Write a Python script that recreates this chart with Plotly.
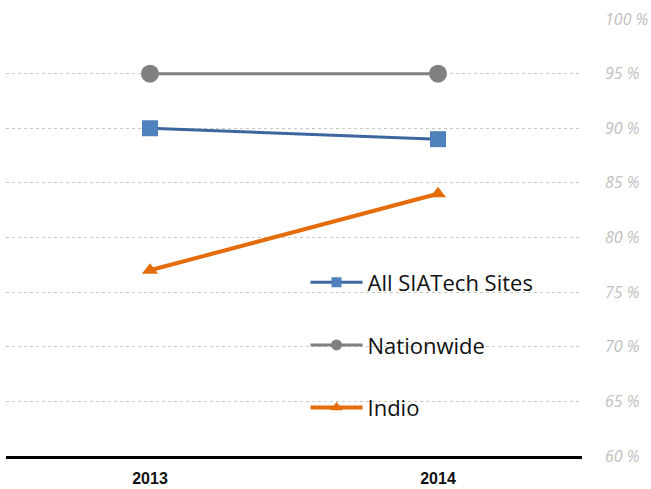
import plotly.graph_objects as go

years = ["2013", "2014"]
siatech = [90, 89]
nationwide = [95, 95]
indio = [77, 84]
tick_vals = [60, 65, 70, 75, 80, 85, 90, 95, 100]
tick_text = [f"{v} %" for v in tick_vals]

series = [
    ("All SIATech Sites", siatech, "#3b679e", 3, "square", 16, 10, "#4f81bd"),
    ("Nationwide", nationwide, "#808080", 3, "circle", 18, 11, "#808080"),
    ("Indio", indio, "#e46c0a", 4, "triangle-up", 14, 11, "#e46c0a"),
]

fig = go.Figure()
for i, (name, vals, lc, lw, sym, ms, lms, mc) in enumerate(series):
    fig.add_trace(go.Scatter(
        x=years, y=vals, name=name, mode="lines+markers",
        line=dict(color=lc, width=lw),
        marker=dict(symbol=sym, size=ms, color=mc),
        showlegend=False, legendgroup=f"g{i}"))
    # legend entry with smaller marker
    fig.add_trace(go.Scatter(
        x=[None], y=[None], name=name, mode="lines+markers",
        line=dict(color=lc, width=lw),
        marker=dict(symbol=sym, size=lms, color=mc),
        showlegend=True, legendgroup=f"g{i}"))

fig.update_layout(
    width=651, height=489,
    margin=dict(l=6, r=69, t=19, b=33, autoexpand=False),
    paper_bgcolor="white", plot_bgcolor="white",
    showlegend=True,
    legend=dict(x=0.52, y=0.445, xanchor="left", yanchor="top",
                font=dict(family="Open Sans, Liberation Sans, sans-serif", size=22, color="#111111"),
                bgcolor="rgba(0,0,0,0)", tracegroupgap=31, itemwidth=52),
    xaxis=dict(type="category", range=[-0.5, 1.5], showgrid=False,
               showline=True, linecolor="black", linewidth=3, automargin=False,
               ticks="", ticklabelstandoff=6,
               tickfont=dict(family="Liberation Sans Narrow, Arial Narrow, Liberation Sans, sans-serif",
                             size=16, color="#111111", weight="bold")),
    yaxis=dict(range=[60, 100], side="right", tickvals=tick_vals, ticktext=tick_text,
               showgrid=True, gridcolor="#c8c8c8", griddash="dot", gridwidth=1,
               zeroline=False, showline=False, ticks="", automargin=False, ticklabelstandoff=22,
               tickfont=dict(family="Open Sans, sans-serif", size=16, color="#c0c0c0", style="italic")),
)

fig.write_html("out.html", config={"displayModeBar": False},
               post_script="document.body.style.margin='0';")
